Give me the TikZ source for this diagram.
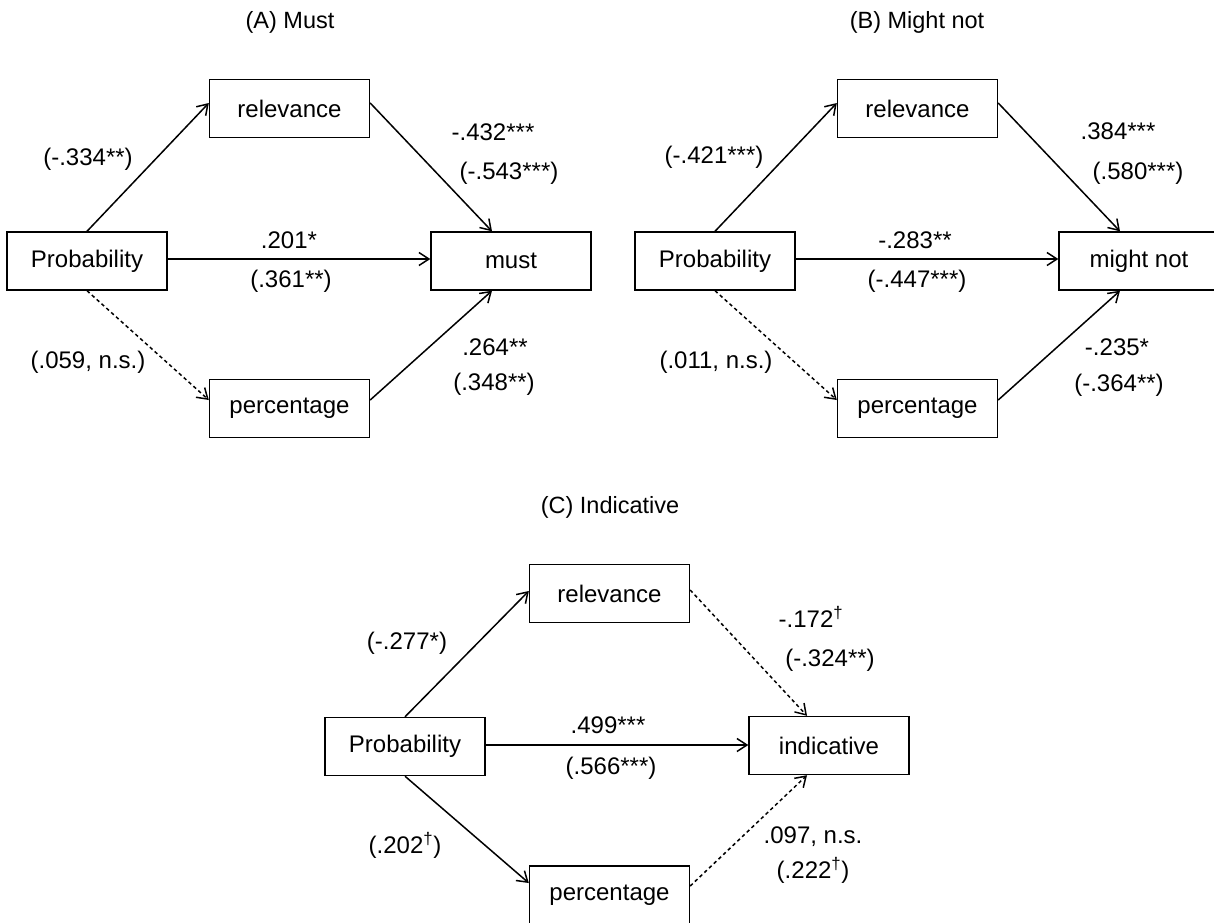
\documentclass[tikz,border=0pt]{standalone}
\usepackage{fontspec}
\setmainfont{Liberation Sans}
\usetikzlibrary{arrows.meta}
\tikzset{
  box/.style={draw, line width=1.4pt, minimum width=160pt, minimum height=58pt, inner sep=0pt, font=\fontsize{24}{28}\selectfont},
  lab/.style={inner sep=0pt, font=\fontsize{24}{28}\selectfont},
  ttl/.style={inner sep=0pt, font=\fontsize{23.5}{28}\selectfont},
  arr/.style={line width=1.5pt, -{Straight Barb[length=10pt,width=13pt,line width=1.5pt]}},
  dotarr/.style={arr, dash pattern=on 3.5pt off 3pt},
}
\newcommand{\dg}{\textsuperscript{†}}
\begin{document}
\begin{tikzpicture}[x=1pt,y=-1pt]
\useasboundingbox (0,0) rectangle (1214,922);
% ---------- Panel A ----------
\node[ttl] (tA) at (290,22) {(A) Must};
\node[box] (rA) at (289.5,108.5) {relevance};
\node[box] (pA) at (87,261) {Probability};
\node[box] (mA) at (511,261) {must};
\node[box] (qA) at (289.5,408.5) {percentage};
\draw[arr] (pA.north) -- ([yshift=5.5pt]rA.west);
\draw[arr] ([yshift=5.5pt]rA.east) -- ([xshift=-19pt]mA.north);
\draw[arr] ([yshift=2pt]pA.east) -- ([yshift=2pt]mA.west);
\draw[dotarr] (pA.south) -- ([yshift=8.5pt]qA.west);
\draw[arr] ([yshift=8.5pt]qA.east) -- ([xshift=-19pt]mA.south);
\node[lab] (a1) at (88,159) {(-.334**)};
\node[lab] (a2) at (493,132) {-.432***};
\node[lab] (a3) at (509,173) {(-.543***)};
\node[lab] (a4) at (289,240) {.201*};
\node[lab] (a5) at (291,281) {(.361**)};
\node[lab] (a6) at (88,362) {(.059, n.s.)};
\node[lab] (a7) at (495,347) {.264**};
\node[lab] (a8) at (494,384) {(.348**)};
% ---------- Panel B ----------
\node[ttl] (tB) at (917,22) {(B) Might not};
\node[box] (rB) at (917.5,108.5) {relevance};
\node[box] (pB) at (715,261) {Probability};
\node[box] (mB) at (1139,261) {might not};
\node[box] (qB) at (917.5,408.5) {percentage};
\draw[arr] (pB.north) -- ([yshift=5.5pt]rB.west);
\draw[arr] ([yshift=5.5pt]rB.east) -- ([xshift=-19pt]mB.north);
\draw[arr] ([yshift=2pt]pB.east) -- ([yshift=2pt]mB.west);
\draw[dotarr] (pB.south) -- ([yshift=8.5pt]qB.west);
\draw[arr] ([yshift=8.5pt]qB.east) -- ([xshift=-19pt]mB.south);
\node[lab] (b1) at (714,157) {(-.421***)};
\node[lab] (b2) at (1118,131) {.384***};
\node[lab] (b3) at (1138,173) {(.580***)};
\node[lab] (b4) at (915,240) {-.283**};
\node[lab] (b5) at (917,281) {(-.447***)};
\node[lab] (b6) at (716,362) {(.011, n.s.)};
\node[lab] (b7) at (1117,347) {-.235*};
\node[lab] (b8) at (1119,385) {(-.364**)};
% ---------- Panel C ----------
\node[ttl] (tC) at (610,507) {(C) Indicative};
\node[box] (rC) at (609.5,593.5) {relevance};
\node[box] (pC) at (405,746.5) {Probability};
\node[box] (iC) at (829,745.5) {indicative};
\node[box] (qC) at (609.5,895) {percentage};
\draw[arr] (pC.north) -- ([yshift=2.5pt]rC.west);
\draw[dotarr] ([yshift=3.5pt]rC.east) -- ([xshift=-22pt]iC.north);
\draw[arr] ([yshift=1.5pt]pC.east) -- ([yshift=0.5pt]iC.west);
\draw[arr] (pC.south) -- ([yshift=12pt]qC.west);
\draw[dotarr] ([yshift=9pt]qC.east) -- ([xshift=-22pt]iC.south);
\node[lab] (c1) at (407,643) {(-.277*)};
\node[lab] (c2) at (811,617) {-.172\dg};
\node[lab] (c3) at (830,660) {(-.324**)};
\node[lab] (c4) at (608,725) {.499***};
\node[lab] (c5) at (611,768) {(.566***)};
\node[lab] (c6) at (405,845) {(.202\dg)};
\node[lab] (c7) at (813,837) {.097, n.s.};
\node[lab] (c8) at (813,870) {(.222\dg)};
\end{tikzpicture}
\end{document}
